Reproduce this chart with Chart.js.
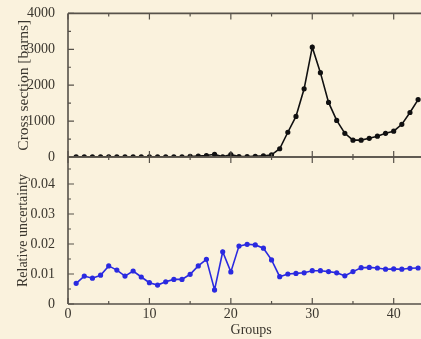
<!DOCTYPE html>
<html>
<head>
<meta charset="utf-8">
<script src="https://cdn.jsdelivr.net/npm/chart.js@4.4.0/dist/chart.umd.min.js"></script>
<style>
  html, body { margin: 0; padding: 0; width: 421px; height: 339px; overflow: hidden; background: #faf2dd; }
  .wrap { position: relative; width: 440px; height: 339px; }
  canvas { position: absolute; left: 0; top: 0; }
</style>
</head>
<body>
<div class="wrap">
  <canvas id="topChart" width="440" height="339"></canvas>
  <canvas id="bottomChart" width="440" height="339"></canvas>
</div>
<script>
const groups = [1, 2, 3, 4, 5, 6, 7, 8, 9, 10, 11, 12, 13, 14, 15, 16, 17, 18, 19, 20, 21, 22,
  23, 24, 25, 26, 27, 28, 29, 30, 31, 32, 33, 34, 35, 36, 37, 38, 39, 40, 41, 42, 43];
const crossSection = [5, 5, 5, 5, 5, 5, 5, 5, 5, 5, 5, 5, 5, 5, 15, 25, 40, 75, 5, 70, 10, 10,
  20, 30, 60, 230, 690, 1130, 1900, 3060, 2350, 1520, 1020, 660, 470, 470, 520, 580, 660, 720, 910, 1240, 1600];
const relUncertainty = [0.0069, 0.0093, 0.0086, 0.0096, 0.0127, 0.0113, 0.0093, 0.011, 0.009, 0.0071,
  0.0063, 0.0074, 0.0082, 0.0082, 0.0099, 0.0127, 0.0149, 0.0047, 0.0174, 0.0107, 0.0193, 0.0199,
  0.0197, 0.0186, 0.0147, 0.0091, 0.010, 0.0102, 0.0104, 0.0111, 0.0111, 0.0108, 0.0104, 0.0094,
  0.0108, 0.0121, 0.0122, 0.012, 0.0116, 0.0117, 0.0116, 0.0119, 0.012];
const xTicks = [0, 10, 20, 30, 40];
const csTicks = [0, 1000, 2000, 3000, 4000];
const ruTicks = [0, 0.01, 0.02, 0.03, 0.04];

const axisColor = '#57524a';
const textColor = '#3a362e';
const serif = '"Liberation Serif", "DejaVu Serif", serif';
const font = { family: serif, size: 14 };

// inside ticks on top and bottom edges of the frame
const frameTicks = {
  id: 'frameTicks',
  afterDraw(chart, args, opts) {
    const ctx = chart.ctx;
    const a = chart.chartArea;
    const xs = chart.scales.x, ys = chart.scales.y;
    ctx.save();
    ctx.strokeStyle = axisColor;
    ctx.lineWidth = 1.2;
    ctx.beginPath();
    for (let v = 0; v <= xs.max; v += 5) {
      const px = xs.getPixelForValue(v);
      const len = v % 10 === 0 ? 6 : 3;
      ctx.moveTo(px, a.bottom); ctx.lineTo(px, a.bottom - len);
      ctx.moveTo(px, a.top); ctx.lineTo(px, a.top + len);
    }
    for (let v = 0; v <= ys.max + 1e-9; v += opts.minor) {
      const py = ys.getPixelForValue(v);
      const major = Math.abs(v / opts.major - Math.round(v / opts.major)) < 1e-6;
      ctx.moveTo(a.left, py); ctx.lineTo(a.left + (major ? 6 : 3), py);
    }
    ctx.stroke();
    ctx.lineWidth = 1.6;
    ctx.beginPath();
    ctx.moveTo(a.left, a.top); ctx.lineTo(a.right, a.top);
    ctx.moveTo(a.left, a.bottom); ctx.lineTo(a.right, a.bottom);
    ctx.moveTo(a.left, a.top); ctx.lineTo(a.left, a.bottom);
    ctx.stroke();
    ctx.restore();
  }
};

const yAxis = (min, max, ticks, title, titleSize, fmt) => ({
  min: min, max: max,
  afterFit: (s) => { s.width = 68; },
  afterBuildTicks: (s) => { s.ticks = ticks.map(v => ({ value: v })); },
  grid: { display: false },
  border: { display: false },
  ticks: { color: textColor, font: font, padding: 5, callback: fmt },
  title: { display: true, text: title, color: textColor, font: { family: serif, size: titleSize },
    padding: { top: 15, bottom: 0 } }
});

new Chart(document.getElementById('topChart'), {
  type: 'line',
  data: {
    datasets: [{
      data: groups.map((g, i) => ({ x: g, y: crossSection[i] })),
      borderColor: '#111111',
      backgroundColor: '#111111',
      borderWidth: 1.6,
      pointRadius: 1.8,
      tension: 0
    }]
  },
  options: {
    responsive: false,
    animation: false,
    layout: { padding: { top: 12, bottom: 182, left: 0, right: 0 } },
    plugins: { legend: { display: false }, tooltip: { enabled: false },
      frameTicks: { major: 1000, minor: 500 } },
    scales: {
      x: { type: 'linear', min: 0, max: 45, display: false },
      y: yAxis(0, 4000, csTicks, 'Cross section [barns]', 15.5, (v) => String(v))
    }
  },
  plugins: [frameTicks]
});

new Chart(document.getElementById('bottomChart'), {
  type: 'line',
  data: {
    datasets: [{
      data: groups.map((g, i) => ({ x: g, y: relUncertainty[i] })),
      borderColor: '#2a2ae0',
      backgroundColor: '#2a2ae0',
      borderWidth: 1.6,
      pointRadius: 1.8,
      tension: 0
    }]
  },
  options: {
    responsive: false,
    animation: false,
    layout: { padding: { top: 157, bottom: 0, left: 0, right: 0 } },
    plugins: { legend: { display: false }, tooltip: { enabled: false },
      frameTicks: { major: 0.01, minor: 0.005 } },
    scales: {
      x: {
        type: 'linear', min: 0, max: 45,
        afterFit: (s) => { s.height = 35; },
        afterBuildTicks: (s) => { s.ticks = xTicks.map(v => ({ value: v })); },
        grid: { display: false },
        border: { display: false },
        ticks: { color: textColor, font: font, padding: -6, maxRotation: 0 },
        title: { display: true, text: 'Groups', color: textColor, font: font, padding: { top: 0, bottom: 0 } }
      },
      y: yAxis(0, 0.049, ruTicks, 'Relative uncertainty', 14, (v) => v === 0 ? '0' : v.toFixed(2))
    }
  },
  plugins: [frameTicks]
});
</script>
</body>
</html>
